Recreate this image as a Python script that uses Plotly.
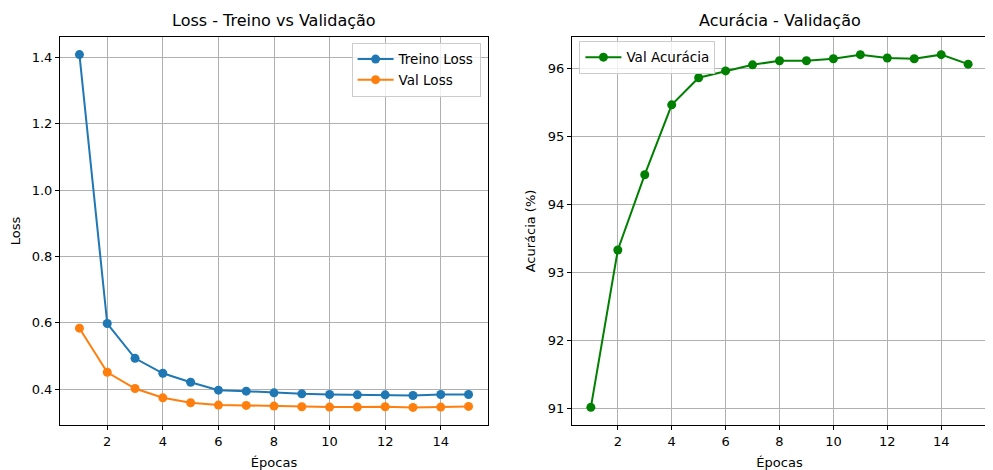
import plotly.graph_objects as go

epocas = list(range(1, 16))
treino_loss = [1.409, 0.598, 0.493, 0.448, 0.421, 0.397, 0.394, 0.389, 0.386, 0.384, 0.383, 0.383, 0.381, 0.384, 0.384]
val_loss = [0.584, 0.451, 0.402, 0.374, 0.359, 0.352, 0.351, 0.349, 0.347, 0.346, 0.346, 0.347, 0.345, 0.346, 0.348]
val_acc = [91.01, 93.33, 94.44, 95.47, 95.87, 95.97, 96.06, 96.12, 96.12, 96.15, 96.21, 96.16, 96.15, 96.21, 96.07]

FONT = "DejaVu Sans"
OFF = 8  # default page body margin
W, H = 993 - OFF, 470 - OFF
ml, mr, mt, mb = 60 - OFF, 6, 37 - OFF, 45
pw = W - ml - mr
x1_end = (488 - 60) / pw
x2_start = (572 - 60) / pw

fig = go.Figure()
fig.add_trace(go.Scatter(x=epocas, y=treino_loss, mode="lines+markers", name="Treino Loss",
                         line=dict(color="#1f77b4", width=2), marker=dict(size=9, color="#1f77b4"),
                         xaxis="x", yaxis="y", legend="legend"))
fig.add_trace(go.Scatter(x=epocas, y=val_loss, mode="lines+markers", name="Val Loss",
                         line=dict(color="#ff7f0e", width=2), marker=dict(size=9, color="#ff7f0e"),
                         xaxis="x", yaxis="y", legend="legend"))
fig.add_trace(go.Scatter(x=epocas, y=val_acc, mode="lines+markers", name="Val Acurácia",
                         line=dict(color="#008000", width=2), marker=dict(size=9, color="#008000"),
                         xaxis="x2", yaxis="y2", legend="legend2"))

axis_common = dict(showline=True, linecolor="black", linewidth=1, mirror=True,
                   ticks="outside", ticklen=4, tickcolor="black", tickwidth=1,
                   showgrid=True, gridcolor="#b0b0b0", gridwidth=1, zeroline=False,
                   automargin=False,
                   tickfont=dict(family=FONT, size=13, color="black"))

fig.update_layout(
    width=W, height=H,
    margin=dict(l=ml, r=mr, t=mt, b=mb),
    paper_bgcolor="white", plot_bgcolor="white",
    font=dict(family=FONT, size=13, color="black"),
    xaxis=dict(domain=[0, x1_end], range=[0.3, 15.7], tick0=2, dtick=2, anchor="y",
               title=dict(text="Épocas", standoff=10, font=dict(size=13)), **axis_common),
    yaxis=dict(domain=[0, 1], range=[0.292, 1.462], tick0=0.4, dtick=0.2, tickformat=".1f", anchor="x",
               title=dict(text="Loss", standoff=9, font=dict(size=13)), **axis_common),
    xaxis2=dict(domain=[x2_start, 1], range=[0.3, 15.7], tick0=2, dtick=2, anchor="y2",
                title=dict(text="Épocas", standoff=10, font=dict(size=13)), **axis_common),
    yaxis2=dict(domain=[0, 1], range=[90.75, 96.47], tick0=91, dtick=1, anchor="x2",
                title=dict(text="Acurácia (%)", standoff=9, font=dict(size=13)), **axis_common),
    legend=dict(x=x1_end - 0.008, y=0.985, xanchor="right", yanchor="top",
                bgcolor="rgba(255,255,255,0.8)", bordercolor="#cccccc", borderwidth=1,
                font=dict(family=FONT, size=13.5), tracegroupgap=0, itemwidth=36),
    legend2=dict(x=x2_start + 0.008, y=0.99, xanchor="left", yanchor="top",
                 bgcolor="rgba(255,255,255,0.8)", bordercolor="#cccccc", borderwidth=1,
                 font=dict(family=FONT, size=13.5), itemwidth=36),
    showlegend=True,
    annotations=[
        dict(text="Loss - Treino vs Validação", x=x1_end / 2, y=1, xref="paper", yref="paper",
             xanchor="center", yanchor="bottom", yshift=5, showarrow=False,
             font=dict(family=FONT, size=16, color="black")),
        dict(text="Acurácia - Validação", x=(x2_start + 1) / 2, y=1, xref="paper", yref="paper",
             xanchor="center", yanchor="bottom", yshift=5, showarrow=False,
             font=dict(family=FONT, size=16, color="black")),
    ],
)

fig.write_html("out.html")
